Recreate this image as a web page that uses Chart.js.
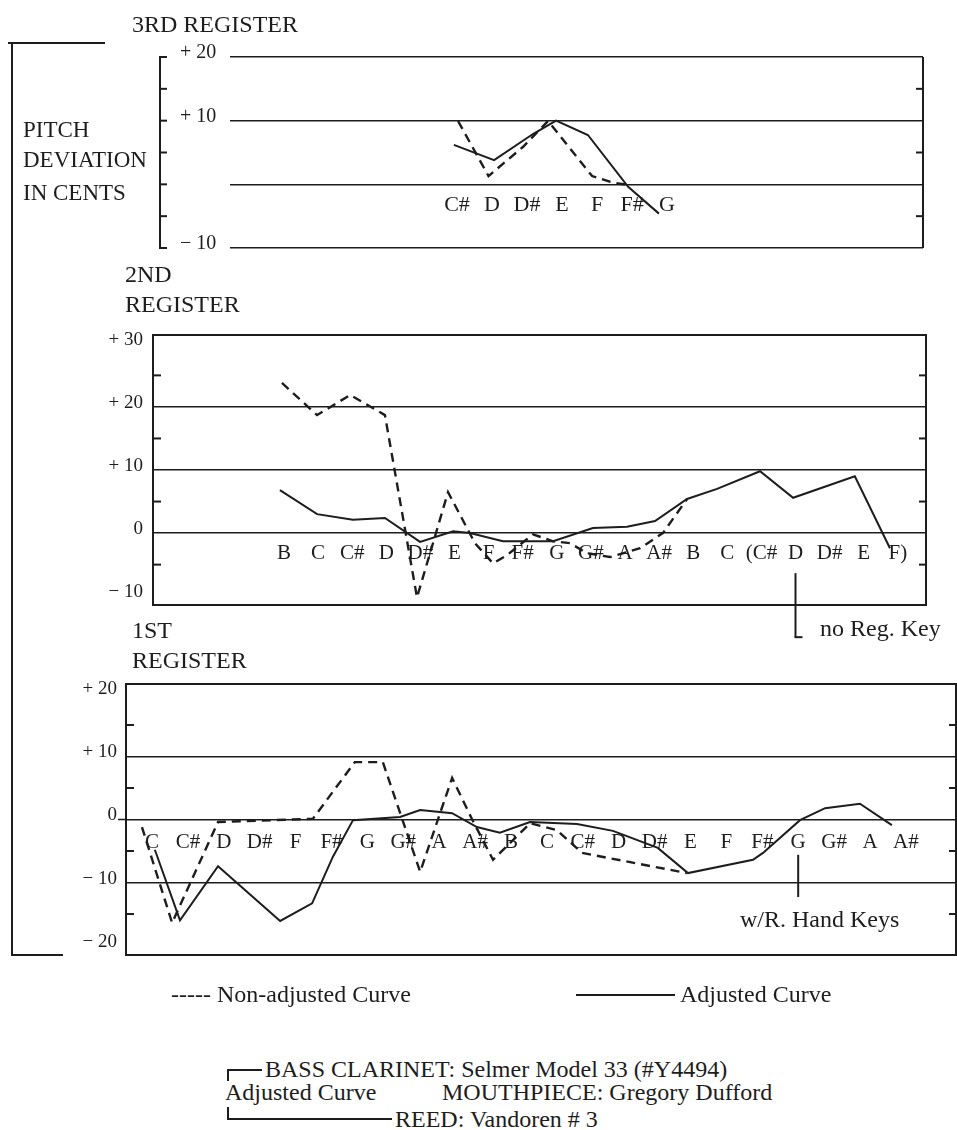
<!DOCTYPE html>
<html><head><meta charset="utf-8">
<script src="https://cdn.jsdelivr.net/npm/chart.js@4.4.1/dist/chart.umd.min.js"></script>
<style>
html,body{margin:0;padding:0;background:#fff;}
body{width:957px;height:1130px;position:relative;overflow:hidden;font-family:"Liberation Serif","Times New Roman",serif;color:#1d1d1d;}
canvas{position:absolute;left:0;}
.t{position:absolute;white-space:nowrap;line-height:1;}
.ln{position:absolute;background:#1d1d1d;}
</style></head><body>
<canvas id="c3" width="957" height="300" style="top:0px"></canvas>
<canvas id="c2" width="957" height="360" style="top:290px"></canvas>
<canvas id="c1" width="957" height="360" style="top:640px"></canvas>
<script>
// ---------- DATA (x = note position index, y = cents) ----------
const notes3 = ['C#','D','D#','E','F','F#','G'];
const adj3X = [-0.09, 1.06, 2.17, 2.83, 3.74, 4.89, 5.77];
const adj3Y = [6.2, 3.8, 7.9, 10.0, 7.75, -0.4, -4.6];
const non3X = [0.03, 0.9, 1.89, 2.6, 3.86, 4.46, 4.89];
const non3Y = [9.95, 1.3, 5.9, 9.95, 1.3, 0.25, -0.1];
const ticks3 = [-10, 0, 10, 20];

const notes2 = ['B','C','C#','D','D#','E','F','F#','G','G#','A','A#','B','C','(C#','D','D#','E','F)'];
const adj2X = [-0.12, 0.97, 2.02, 2.96, 3.99, 4.96, 5.45, 6.42, 7.89, 9.06, 10.06, 10.88, 11.82, 12.7, 13.96, 14.93, 16.74, 17.77];
const adj2Y = [6.8, 3.0, 2.1, 2.4, -1.4, 0.3, 0, -1.3, -1.3, 0.8, 1.0, 1.9, 5.4, 7.0, 9.8, 5.6, 9.0, -2.4];
const non2X = [-0.06, 0.97, 1.94, 2.96, 3.9, 4.81, 5.6, 6.13, 6.54, 7.3, 7.89, 8.39, 8.89, 9.56, 10.44, 11.11, 11.82];
const non2Y = [23.8, 18.7, 21.9, 18.7, -10.2, 6.5, -1.6, -4.8, -3.5, -0.2, -1.3, -1.6, -3.2, -3.8, -2.4, 0, 5.4];
const ticks2 = [-10, 0, 10, 20, 30];

const notes1 = ['C','C#','D','D#','F','F#','G','G#','A','A#','B','C','C#','D','D#','E','F','F#','G','G#','A','A#'];
const adj1X = [0.08, 0.78, 1.84, 3.57, 4.46, 5.04, 5.6, 6.91, 7.47, 8.36, 9.05, 9.69, 10.53, 11.84, 12.84, 14.09, 14.93, 16.74, 17.02, 18.05, 18.75, 19.72, 20.61];
const adj1Y = [-4.8, -16.0, -7.4, -16.1, -13.3, -5.9, -0.1, 0.4, 1.5, 1.0, -1.2, -2.1, -0.4, -0.7, -1.8, -4.5, -8.5, -6.4, -5.3, -0.1, 1.8, 2.5, -0.9];
const non1X = [-0.28, 0.56, 1.84, 4.48, 5.65, 6.43, 7.47, 8.36, 8.91, 9.5, 10.53, 11.28, 11.98, 14.9];
const non1Y = [-1.2, -16.4, -0.4, 0.1, 9.1, 9.1, -8.3, 6.6, 0.1, -6.4, -0.6, -1.7, -5.3, -8.5];
const ticks1 = [-20, -10, 0, 10, 20];

// ---------- helpers ----------
const INK = '#1d1d1d';
const pts = (xs, ys) => xs.map((x, i) => ({x: x, y: ys[i]}));
const fmt = v => v > 0 ? '+ ' + v : (v < 0 ? '\u2212 ' + Math.abs(v) : '0');

function makeDecor(p) {
  return {
    id: 'decor',
    afterDraw(chart) {
      const {ctx, chartArea: a, scales: {x, y}} = chart;
      const Y = v => y.getPixelForValue(v), X = v => x.getPixelForValue(v);
      ctx.save();
      ctx.strokeStyle = INK; ctx.fillStyle = INK; ctx.lineCap = 'butt';
      const seg = (x1, y1, x2, y2, w) => { ctx.lineWidth = w || 2; ctx.beginPath(); ctx.moveTo(x1, y1); ctx.lineTo(x2, y2); ctx.stroke(); };
      if (p.box) { ctx.lineWidth = 2; ctx.strokeRect(a.left, a.top, a.right - a.left, a.bottom - a.top); }
      else { seg(a.right, a.top, a.right, a.bottom); }
      if (p.outerGap) {
        const ox = a.left - p.outerGap;
        seg(ox, Y(p.yMax) - 1, ox, Y(p.yMin) + 1);
        p.outerTicks.forEach(v => seg(ox - 1, Y(v), ox + 7, Y(v)));
      }
      p.minorL.forEach(v => seg(a.left, Y(v), a.left + 8, Y(v)));
      p.minorR.forEach(v => seg(a.right, Y(v), a.right - 7, Y(v)));
      if (p.zeroExt) seg(a.left - p.zeroExt, Y(0), a.left, Y(0), 1.5);
      (p.markers || []).forEach(m => {
        const mx = X(m.at);
        seg(mx, Y(m.from), mx, Y(m.to), 2);
        if (m.hook) seg(mx - 1, Y(m.to), mx + m.hook, Y(m.to), 2);
      });
      ctx.font = p.noteSize + 'px "Liberation Serif"';
      ctx.textAlign = 'center'; ctx.textBaseline = 'middle';
      p.notes.forEach((n, i) => ctx.fillText(n, X(i), Y(0) + p.noteDy));
      ctx.restore();
    }
  };
}

function panel(id, p) {
  return new Chart(document.getElementById(id), {
    type: 'line',
    data: { datasets: [
      { label: 'Adjusted Curve', data: pts(p.adjX, p.adjY), borderColor: INK, borderWidth: 2, pointRadius: 0, tension: 0, fill: false },
      { label: 'Non-adjusted Curve', data: pts(p.nonX, p.nonY), borderColor: INK, borderWidth: 2.4, borderDash: [9, 6], pointRadius: 0, tension: 0, fill: false }
    ]},
    options: {
      responsive: false, animation: false, devicePixelRatio: 1, events: [],
      layout: { padding: p.pad },
      plugins: { legend: { display: false }, tooltip: { enabled: false }, title: { display: false } },
      scales: {
        x: { type: 'linear', min: p.xMin, max: p.xMax, display: false },
        y: { type: 'linear', min: p.yMin, max: p.yMax, position: 'left',
          afterFit(s) { s.width = p.axisW; s.paddingTop = 0; s.paddingBottom = 0; },
          afterBuildTicks(s) { s.ticks = p.tickVals.map(v => ({value: v})); },
          border: { display: false },
          grid: { drawTicks: false, lineWidth: 1.5,
                  color: c => (c.tick && p.gridVals.includes(c.tick.value)) ? INK : 'rgba(0,0,0,0)' },
          ticks: { autoSkip: false, padding: p.tickPad, crossAlign: p.cross, labelOffset: -4, color: INK,
                   font: { family: 'Liberation Serif', size: p.tickSize },
                   callback: v => (p.hideZero && v === 0) ? '' : fmt(v) }
        }
      }
    },
    plugins: [makeDecor(p)]
  });
}

// ---------- 3rd register ----------
panel('c3', {
  adjX: adj3X, adjY: adj3Y, nonX: non3X, nonY: non3Y, notes: notes3,
  tickVals: ticks3, gridVals: [-10, 0, 10, 20], hideZero: true,
  xMin: -6.486, xMax: 13.314, yMin: -10, yMax: 20,
  pad: { left: 180, right: 34, top: 57, bottom: 52 }, axisW: 50,
  tickPad: 0, cross: 'far', tickSize: 20,
  box: false, outerGap: 70, outerTicks: [-10, -5, 0, 5, 10, 15, 20],
  minorL: [], minorR: [15, 5, -5],
  noteSize: 22, noteDy: 21
});

// ---------- 2nd register ----------
panel('c2', {
  adjX: adj2X, adjY: adj2Y, nonX: non2X, nonY: non2Y, notes: notes2,
  tickVals: ticks2, gridVals: [0, 10, 20], hideZero: false,
  xMin: -3.842, xMax: 18.827, yMin: -11.4, yMax: 31.4,
  pad: { left: 60, right: 31, top: 45, bottom: 45 }, axisW: 93,
  tickPad: 10, cross: 'near', tickSize: 19,
  box: true, minorL: [25, 15, 5, -5], minorR: [25, 15, 5, -5],
  markers: [{ at: 15, from: -6.35, to: -16.5, hook: 7 }],
  noteSize: 21, noteDy: 20
});

// ---------- 1st register ----------
panel('c1', {
  adjX: adj1X, adjY: adj1Y, nonX: non1X, nonY: non1Y, notes: notes1,
  tickVals: ticks1, gridVals: [-10, 0, 10], hideZero: false,
  xMin: -0.724, xMax: 22.396, yMin: -21.5, yMax: 21.5,
  pad: { left: 40, right: 1, top: 44, bottom: 45 }, axisW: 86,
  tickPad: 9, cross: 'near', tickSize: 19,
  box: true, minorL: [15, 5, -5, -15], minorR: [15, 5, -5, -15], zeroExt: 8,
  markers: [{ at: 18, from: -5.6, to: -12.3 }],
  noteSize: 21, noteDy: 22.5
});

// ---------- annotation text & bracket lines ----------
const labels = [
  ['3RD REGISTER', 132, 32, 24],
  ['PITCH', 23, 137, 23], ['DEVIATION', 23, 167, 23], ['IN CENTS', 23, 200, 23],
  ['2ND', 125, 282, 24], ['REGISTER', 125, 312, 24],
  ['1ST', 132, 638, 24], ['REGISTER', 132, 668, 24],
  ['no Reg. Key', 820, 636, 24],
  ['w/R. Hand Keys', 740, 927, 24],
  ['----- Non-adjusted Curve', 171, 1002, 24],
  ['Adjusted Curve', 680, 1002, 24],
  ['BASS CLARINET: Selmer Model 33 (#Y4494)', 265, 1077, 24],
  ['Adjusted Curve', 225, 1100, 24],
  ['MOUTHPIECE: Gregory Dufford', 442, 1100, 24],
  ['REED: Vandoren # 3', 395, 1127, 24]
];
labels.forEach(([txt, x, base, size]) => {
  const d = document.createElement('div');
  d.className = 't'; d.textContent = txt;
  d.style.left = x + 'px'; d.style.top = (base - 0.8375 * size) + 'px'; d.style.fontSize = size + 'px';
  document.body.appendChild(d);
});
const rules = [ // [left, top, width, height]
  [8, 42, 97, 2], [11, 42, 2, 914], [11, 954, 52, 2],
  [576, 994, 99, 2],
  [227, 1069, 35, 2], [227, 1069, 2, 12],
  [227, 1107, 2, 13], [227, 1118, 165, 2]
];
rules.forEach(([l, t, w, h]) => {
  const d = document.createElement('div');
  d.className = 'ln';
  d.style.left = l + 'px'; d.style.top = t + 'px'; d.style.width = w + 'px'; d.style.height = h + 'px';
  document.body.appendChild(d);
});
</script>
</body></html>
